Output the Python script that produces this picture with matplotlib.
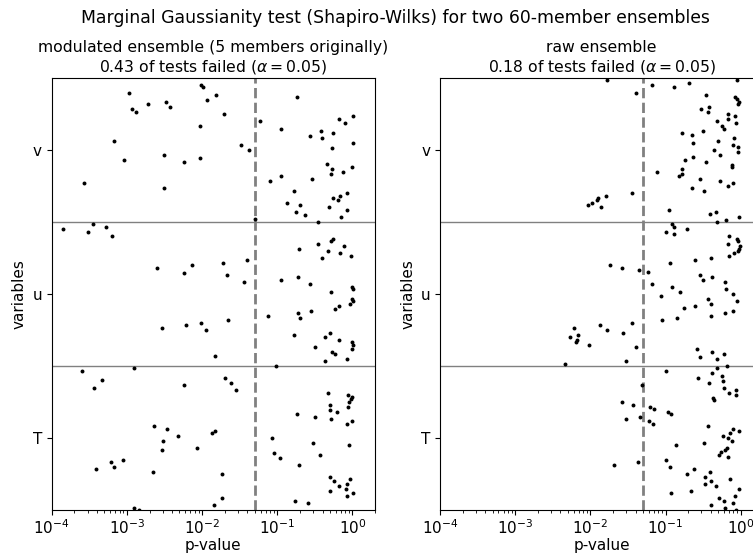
import numpy as np
import matplotlib
matplotlib.use("Agg")
import matplotlib.pyplot as plt

# ---------------- data ----------------
variables = ["T", "u", "v"]
alpha = 0.05
titles = ["modulated ensemble (5 members originally)\n0.43 of tests failed ($\\alpha = 0.05$)",
          "raw ensemble\n0.18 of tests failed ($\\alpha = 0.05$)"]
suptitle = "Marginal Gaussianity test (Shapiro-Wilks) for two 60-member ensembles"

# modulated ensemble: log10(p-value) and vertical position (0-3, T/u/v bands)
mod_log_p = [
    # v band
    -2.978, -2.934, -2.880, -2.725, -2.476, -2.427, -2.018, -1.987, -1.934, -1.814,
    -1.712, -2.032, -3.174, -3.040, -2.507, -2.240, -2.023, -1.476, -1.374, -3.574,
    -2.507, -1.300, -1.232, -0.743, -0.956, -0.565, -0.418, -0.405, -0.254, -0.178,
    -0.098, 0.004, 0.008, -0.272, -0.334, -0.267, -0.285, -0.129, -0.009, -1.094,
    -0.952, -0.534, -0.778, -0.867, -0.756, -0.694, -0.632, -0.463, -0.307, -0.254,
    -0.187, -0.169, -0.076, -0.152, -0.067,
    # u band
    -3.845, -3.516, -3.454, -3.276, -3.201, -2.605, -2.236, -2.134, -1.725, -1.405,
    -1.672, -1.449, -2.529, -2.214, -2.009, -1.947, -1.649, -1.832, -2.907,
    -0.716, -0.454, -0.325, -0.289, -0.254, -0.112, -0.169, -0.023, -0.405, -0.947,
    -0.720, -0.569, -0.285, -0.005, 0.004, -0.009, 0.008, -0.032, -0.236, -0.178,
    -0.552, -0.729, -0.694, -1.120, -0.778, -0.360, -0.303, -0.178, 0.000, 0.008,
    0.000, -0.494, -0.272, -0.227, -0.072, -0.360, -1.018,
    # T band
    -3.592, -3.440, -3.329, -2.240, -1.698, -1.609, -1.543, -2.640, -2.467, -2.520,
    -2.538, -2.320, -2.063, -1.867, -1.827, -3.209, -3.174, -3.049, -3.405, -2.654,
    -1.734, -1.734, -1.836, -2.907, -2.836,
    -0.325, -0.054, 0.000, -0.018, -0.040, -0.303, -0.058, -0.303, -0.205, -0.738,
    -0.498, -0.280, 0.000, -0.072, -1.067, -0.525, -0.040, -1.040, -0.965, -0.427,
    -0.716, -0.303, -0.036, -0.245, -0.072, -0.183, -0.080, -0.298, 0.008, -0.067,
    -0.769, -0.587,
]
mod_y = [
    # v band
    2.896, 2.781, 2.762, 2.813, 2.829, 2.797, 2.947, 2.931, 2.845, 2.878,
    2.748, 2.665, 2.563, 2.431, 2.464, 2.413, 2.445, 2.531, 2.496, 2.265,
    2.233, 2.020, 2.697, 2.864, 2.646, 2.596, 2.630, 2.579, 2.614, 2.713,
    2.681, 2.730, 2.547, 2.512, 2.397, 2.364, 2.330, 2.346, 2.378, 2.281,
    2.314, 2.297, 2.214, 2.131, 2.064, 2.115, 2.048, 1.997, 2.099, 2.166,
    2.150, 2.180, 2.198, 2.032, 2.082,
    # u band
    1.946, 1.930, 1.981, 1.965, 1.898, 1.680, 1.646, 1.699, 1.715, 1.731,
    1.632, 1.581, 1.264, 1.281, 1.297, 1.248, 1.315, 1.065, 0.982,
    1.812, 1.847, 1.796, 1.863, 1.879, 1.831, 1.780, 1.764, 1.747, 1.597,
    1.613, 1.565, 1.514, 1.546, 1.530, 1.463, 1.449, 1.431, 1.396, 1.412,
    1.380, 1.364, 1.329, 1.348, 1.213, 1.197, 1.230, 1.181, 1.163, 1.146,
    1.114, 1.130, 1.098, 1.082, 1.049, 1.031, 0.998,
    # T band
    0.964, 0.848, 0.899, 0.867, 0.915, 0.881, 0.832, 0.582, 0.564, 0.481,
    0.416, 0.515, 0.432, 0.531, 0.548, 0.333, 0.298, 0.349, 0.284, 0.266,
    0.247, 0.083, 0.032, 0.016, 0.002,
    0.813, 0.797, 0.781, 0.767, 0.749, 0.730, 0.714, 0.696, 0.679, 0.666,
    0.647, 0.631, 0.615, 0.598, 0.497, 0.464, 0.448, 0.397, 0.363, 0.381,
    0.314, 0.231, 0.215, 0.199, 0.182, 0.164, 0.148, 0.132, 0.115, 0.099,
    0.064, 0.048,
]

# raw ensemble
raw_log_p = [
    # v band
    -1.782, -1.391, -1.182, -0.889, -0.693, -0.044, -0.462, -0.075, -0.053, -0.022,
    -0.040, -0.524, -0.422, -0.431, -0.173, -0.164, -0.075, -0.315, -0.244, -0.218,
    -0.058, -0.777, -0.649, -0.507, -0.635, -0.298, -0.093, -0.040, -0.031, -0.107,
    -0.360, -0.280, -0.631, -0.746, -0.458, -0.115, -0.111, -1.107, -0.786, -0.777,
    -0.827, -0.547, -0.271, -0.107, -0.164, -0.644, -0.484, -1.440, -1.791, -1.902,
    -1.906, -1.973, -2.026, -1.853, -0.955, -0.404, -0.324, -0.196, -0.022, -0.315,
    # u band
    -0.911, -0.884, -0.711, -0.987, -0.893, -0.155, -0.053, -0.040, -0.164, -0.004,
    -0.026, -0.040, -0.089, -0.151, -0.400, -0.609, -0.946, -1.738, -1.582, -1.355,
    -1.235, -0.538, -0.502, -0.386, -1.182, -0.911, -0.813, -0.209, -0.191, -0.098,
    -1.058, -0.435, -0.395, -0.049, -0.604, -0.755, -0.102, -0.209, -0.395, -0.844,
    -1.044, -1.440, -1.871, -2.222, -1.778, -1.564, -2.160, -2.266, -2.182, -2.195,
    -2.013, -1.391, -0.586, -0.538, -0.378, -0.227, -0.315, -1.529, -2.333, -0.187,
    -0.315,
    # T band
    -1.000, -0.386, -0.569, -0.253, -0.418, -0.231, -0.218, -0.151, -0.066, -0.066,
    -1.315, -0.373, -0.360, -1.582, -1.431, -1.200, -1.155, -0.964, -0.933, -1.529,
    -1.338, -1.222, -1.169, -0.435, -0.098, -0.022, -0.142, -0.235, -0.169, -0.120,
    -0.484, -0.866, -0.178, -0.204, -0.262, -0.289, -0.169, -0.991, -1.680, -1.364,
    -0.942, -0.627, -0.404, -0.715, -0.471, -0.142, -0.391, -0.471, -0.324, -0.026,
    -0.662, -0.933, -0.071, -0.289, -0.218, -0.098, -0.395, -0.213, -0.058,
]
raw_y = [
    # v band
    2.982, 2.896, 2.947, 2.931, 2.963, 2.982, 2.880, 2.866, 2.848, 2.831,
    2.815, 2.781, 2.797, 2.762, 2.748, 2.713, 2.730, 2.697, 2.667, 2.646,
    2.681, 2.614, 2.598, 2.630, 2.547, 2.563, 2.579, 2.515, 2.480, 2.531,
    2.496, 2.464, 2.448, 2.429, 2.415, 2.395, 2.381, 2.348, 2.364, 2.332,
    2.314, 2.297, 2.281, 2.265, 2.249, 2.233, 2.216, 2.198, 2.180, 2.163,
    2.149, 2.131, 2.115, 2.099, 2.082, 2.050, 2.064, 2.013, 2.032, 1.995,
    # u band
    1.981, 1.965, 1.946, 1.930, 1.914, 1.898, 1.879, 1.865, 1.847, 1.831,
    1.812, 1.798, 1.780, 1.764, 1.747, 1.731, 1.715, 1.697, 1.680, 1.664,
    1.648, 1.632, 1.597, 1.613, 1.565, 1.549, 1.514, 1.581, 1.530, 1.498,
    1.482, 1.465, 1.431, 1.447, 1.415, 1.398, 1.380, 1.364, 1.348, 1.331,
    1.315, 1.297, 1.281, 1.264, 1.248, 1.230, 1.213, 1.197, 1.181, 1.165,
    1.146, 1.130, 1.114, 1.063, 1.098, 1.079, 1.047, 1.031, 1.015, 0.999,
    0.982,
    # T band
    0.966, 0.948, 0.915, 0.931, 0.881, 0.897, 0.848, 0.813, 0.832, 0.797,
    0.864, 0.779, 0.763, 0.746, 0.730, 0.714, 0.698, 0.682, 0.666, 0.631,
    0.647, 0.615, 0.598, 0.582, 0.564, 0.548, 0.531, 0.515, 0.499, 0.481,
    0.464, 0.448, 0.432, 0.416, 0.400, 0.381, 0.365, 0.349, 0.314, 0.333,
    0.298, 0.282, 0.266, 0.249, 0.231, 0.215, 0.199, 0.180, 0.164, 0.148,
    0.132, 0.115, 0.097, 0.081, 0.064, 0.048, 0.032, 0.016, 0.000,
]

# ---------------- figure ----------------
fig = plt.figure(figsize=(7.53, 5.56), dpi=100)
ax1 = fig.add_axes([0.0687, 0.0827, 0.4294, 0.7779])
ax2 = fig.add_axes([0.5843, 0.0827, 0.4294, 0.7779])

panels = [(mod_log_p, mod_y), (raw_log_p, raw_y)]
for ax, (lp, yy), title in zip([ax1, ax2], panels, titles):
    p = 10.0 ** np.asarray(lp)
    ax.scatter(p, yy, s=8, color="black", zorder=3, linewidths=0)
    ax.set_xscale("log")
    ax.set_xlim(1e-4, 2)
    ax.set_ylim(0, 3)
    for b in [1, 2]:
        ax.axhline(b, color="gray", lw=1, zorder=1)
    ax.axvline(alpha, color="gray", ls="--", lw=2, zorder=2)
    ax.set_yticks([0.5, 1.5, 2.5])
    ax.set_yticklabels(variables, fontsize=11)
    ax.tick_params(axis="x", labelsize=11, pad=2.5)
    ax.set_xlabel("p-value", fontsize=11, labelpad=0.5)
    ax.set_ylabel("variables", fontsize=11)
    ax.set_title(title, fontsize=11.25, pad=4.5)

fig.suptitle(suptitle, x=0.525, y=0.983, fontsize=12.4)
fig.savefig("out.png", dpi=100)
